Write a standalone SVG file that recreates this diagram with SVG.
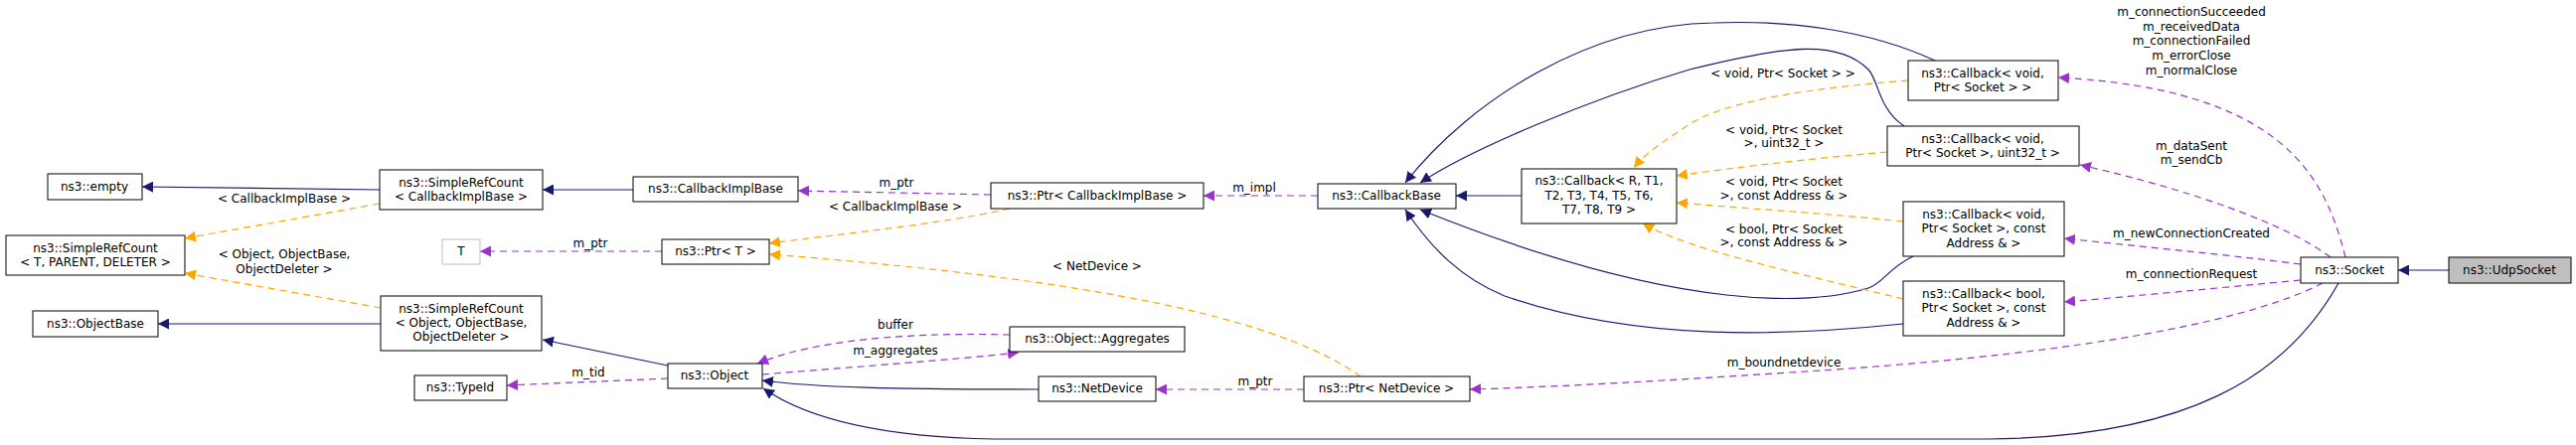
<svg xmlns="http://www.w3.org/2000/svg" width="2592" height="448" viewBox="0 0 2592 448">
<style>
text{font-family:"DejaVu Sans","Liberation Sans",sans-serif;font-size:12px;fill:#000;text-anchor:middle;dominant-baseline:central}
.n rect{fill:#fff;stroke:#000;stroke-width:1}
.inh{fill:none;stroke:#191970;stroke-width:1.2}
.tpl{fill:none;stroke:#ffa500;stroke-width:1.2;stroke-dasharray:7,5}
.use{fill:none;stroke:#9a32cd;stroke-width:1.2;stroke-dasharray:7,5}
</style>
<defs>
<marker id="aN" viewBox="0 0 10 10" refX="10" refY="5" markerWidth="11" markerHeight="11" markerUnits="userSpaceOnUse" orient="auto"><path d="M0,0L10,5L0,10z" fill="#191970"/></marker>
<marker id="aO" viewBox="0 0 10 10" refX="10" refY="5" markerWidth="11" markerHeight="11" markerUnits="userSpaceOnUse" orient="auto"><path d="M0,0L10,5L0,10z" fill="#ffa500"/></marker>
<marker id="aP" viewBox="0 0 10 10" refX="10" refY="5" markerWidth="11" markerHeight="11" markerUnits="userSpaceOnUse" orient="auto"><path d="M0,0L10,5L0,10z" fill="#9a32cd"/></marker>
</defs>
<rect width="2592" height="448" fill="#fff"/>
<g id="edges">
<path class="inh" marker-end="url(#aN)" d="M382,191L143,188"/>
<path class="tpl" marker-end="url(#aO)" d="M382,205L186,240"/>
<path class="inh" marker-end="url(#aN)" d="M637,191L546,191"/>
<path class="use" marker-end="url(#aP)" d="M997,196L803,192"/>
<path class="tpl" marker-end="url(#aO)" d="M1016,210C950,225 850,235 774,245"/>
<path class="use" marker-end="url(#aP)" d="M1326,197L1211,197"/>
<path class="use" marker-end="url(#aP)" d="M666,253L483,253"/>
<path class="tpl" marker-end="url(#aO)" d="M383,310L186,275"/>
<path class="inh" marker-end="url(#aN)" d="M383,326L159,326"/>
<path class="inh" marker-end="url(#aN)" d="M672,368L546,342"/>
<path class="use" marker-end="url(#aP)" d="M672,381L510,388"/>
<path class="use" marker-end="url(#aP)" d="M1016,337C940,335 830,338 762,366"/>
<path class="use" marker-end="url(#aP)" d="M767,377C850,370 950,363 1025,355"/>
<path class="inh" marker-end="url(#aN)" d="M1045,392C900,392 820,390 767,383"/>
<path class="use" marker-end="url(#aP)" d="M1312,392L1163,392"/>
<path class="tpl" marker-end="url(#aO)" d="M1369,379C1300,330 1150,285 774,256"/>
<path class="inh" marker-end="url(#aN)" d="M1531,197L1465,197"/>
<path class="inh" marker-end="url(#aN)" d="M1947,61C1880,30 1800,20 1724,23C1600,25 1480,100 1414,184"/>
<path class="inh" marker-end="url(#aN)" d="M1916,127C1890,110 1890,80 1880,70C1850,40 1800,45 1700,70C1600,100 1480,150 1429,184"/>
<path class="inh" marker-end="url(#aN)" d="M1925,258C1900,270 1895,285 1880,290C1830,305 1700,320 1429,211"/>
<path class="inh" marker-end="url(#aN)" d="M1915,326C1800,338 1650,345 1514,298C1470,280 1440,250 1414,211"/>
<path class="tpl" marker-end="url(#aO)" d="M1920,81C1830,88 1740,100 1700,125C1670,145 1655,155 1644,169"/>
<path class="tpl" marker-end="url(#aO)" d="M1899,153C1820,160 1750,168 1687,177"/>
<path class="tpl" marker-end="url(#aO)" d="M1915,223C1840,215 1760,210 1687,204"/>
<path class="tpl" marker-end="url(#aO)" d="M1915,301C1850,285 1760,265 1700,245C1680,238 1665,232 1653,225"/>
<path class="inh" marker-end="url(#aN)" d="M2464,272L2413,272"/>
<path class="use" marker-end="url(#aP)" d="M2360,259C2340,180 2300,90 2071,78"/>
<path class="use" marker-end="url(#aP)" d="M2345,259C2300,225 2200,190 2093,166"/>
<path class="use" marker-end="url(#aP)" d="M2315,266C2230,255 2150,248 2077,240"/>
<path class="use" marker-end="url(#aP)" d="M2315,282C2230,290 2150,298 2077,304"/>
<path class="use" marker-end="url(#aP)" d="M2337,285C2250,330 2050,360 1800,375C1650,385 1550,390 1479,392"/>
<path class="inh" marker-end="url(#aN)" d="M2353,285C2300,380 2200,440 2000,442L1000,442C880,440 810,420 768,391"/>
</g>
<g id="labels">
<text x="286" y="200">&lt; CallbackImplBase &gt;</text>
<text x="286" y="256">&lt; Object, ObjectBase,</text>
<text x="286" y="271">ObjectDeleter &gt;</text>
<text x="594" y="245">m_ptr</text>
<text x="592" y="375">m_tid</text>
<text x="902" y="184">m_ptr</text>
<text x="901" y="208">&lt; CallbackImplBase &gt;</text>
<text x="1262" y="189">m_impl</text>
<text x="1104" y="268">&lt; NetDevice &gt;</text>
<text x="901" y="327">buffer</text>
<text x="901" y="353">m_aggregates</text>
<text x="1263" y="384">m_ptr</text>
<text x="1794" y="74">&lt; void, Ptr&lt; Socket &gt; &gt;</text>
<text x="1795" y="131">&lt; void, Ptr&lt; Socket</text>
<text x="1795" y="144">&gt;, uint32_t &gt;</text>
<text x="1795" y="183">&lt; void, Ptr&lt; Socket</text>
<text x="1795" y="197">&gt;, const Address &amp; &gt;</text>
<text x="1795" y="231">&lt; bool, Ptr&lt; Socket</text>
<text x="1795" y="244">&gt;, const Address &amp; &gt;</text>
<text x="1795" y="365">m_boundnetdevice</text>
<text x="2205" y="12">m_connectionSucceeded</text>
<text x="2205" y="27">m_receivedData</text>
<text x="2205" y="41">m_connectionFailed</text>
<text x="2205" y="56">m_errorClose</text>
<text x="2205" y="71">m_normalClose</text>
<text x="2205" y="147">m_dataSent</text>
<text x="2205" y="161">m_sendCb</text>
<text x="2205" y="235">m_newConnectionCreated</text>
<text x="2205" y="276">m_connectionRequest</text>
</g>
<g id="UdpSocket" class="n"><rect x="2464" y="259" width="123" height="26" style="fill:#bfbfbf"/><text x="2525" y="272">ns3::UdpSocket</text></g>
<g id="Socket" class="n"><rect x="2315" y="259" width="98" height="26"/><text x="2364" y="272">ns3::Socket</text></g>
<g id="CbVoid" class="n"><rect x="1920" y="61" width="151" height="40"/><text x="1995" y="74">ns3::Callback&lt; void,</text><text x="1995" y="88">Ptr&lt; Socket &gt; &gt;</text></g>
<g id="CbU32" class="n"><rect x="1899" y="127" width="193" height="40"/><text x="1995" y="140">ns3::Callback&lt; void,</text><text x="1995" y="154">Ptr&lt; Socket &gt;, uint32_t &gt;</text></g>
<g id="CbAddr" class="n"><rect x="1915" y="203" width="162" height="55"/><text x="1996" y="216">ns3::Callback&lt; void,</text><text x="1996" y="230">Ptr&lt; Socket &gt;, const</text><text x="1996" y="245">Address &amp; &gt;</text></g>
<g id="CbBool" class="n"><rect x="1915" y="283" width="162" height="55"/><text x="1996" y="296">ns3::Callback&lt; bool,</text><text x="1996" y="310">Ptr&lt; Socket &gt;, const</text><text x="1996" y="325">Address &amp; &gt;</text></g>
<g id="CallbackR" class="n"><rect x="1531" y="170" width="156" height="55"/><text x="1609" y="182">ns3::Callback&lt; R, T1,</text><text x="1609" y="197">T2, T3, T4, T5, T6,</text><text x="1609" y="211">T7, T8, T9 &gt;</text></g>
<g id="CallbackBase" class="n"><rect x="1326" y="185" width="139" height="25"/><text x="1395" y="197">ns3::CallbackBase</text></g>
<g id="PtrCIB" class="n"><rect x="997" y="184" width="214" height="26"/><text x="1104" y="197">ns3::Ptr&lt; CallbackImplBase &gt;</text></g>
<g id="CIB" class="n"><rect x="637" y="178" width="166" height="25"/><text x="720" y="190">ns3::CallbackImplBase</text></g>
<g id="SrcCIB" class="n"><rect x="382" y="171" width="164" height="40"/><text x="464" y="184">ns3::SimpleRefCount</text><text x="464" y="198">&lt; CallbackImplBase &gt;</text></g>
<g id="empty" class="n"><rect x="48" y="175" width="95" height="26"/><text x="95" y="188">ns3::empty</text></g>
<g id="SrcT" class="n"><rect x="6" y="237" width="180" height="40"/><text x="96" y="250">ns3::SimpleRefCount</text><text x="96" y="264">&lt; T, PARENT, DELETER &gt;</text></g>
<g id="T" class="n"><rect x="445" y="241" width="38" height="25" style="stroke:#bfbfbf"/><text x="464" y="253">T</text></g>
<g id="PtrT" class="n"><rect x="666" y="241" width="108" height="25"/><text x="720" y="253">ns3::Ptr&lt; T &gt;</text></g>
<g id="SrcObj" class="n"><rect x="383" y="298" width="162" height="55"/><text x="464" y="311">ns3::SimpleRefCount</text><text x="464" y="325">&lt; Object, ObjectBase,</text><text x="464" y="339">ObjectDeleter &gt;</text></g>
<g id="ObjectBase" class="n"><rect x="33" y="313" width="126" height="26"/><text x="96" y="326">ns3::ObjectBase</text></g>
<g id="TypeId" class="n"><rect x="417" y="378" width="93" height="25"/><text x="463" y="390">ns3::TypeId</text></g>
<g id="Object" class="n"><rect x="672" y="366" width="95" height="25"/><text x="719" y="378">ns3::Object</text></g>
<g id="Aggregates" class="n"><rect x="1016" y="329" width="176" height="25"/><text x="1104" y="341">ns3::Object::Aggregates</text></g>
<g id="NetDevice" class="n"><rect x="1045" y="379" width="118" height="25"/><text x="1104" y="391">ns3::NetDevice</text></g>
<g id="PtrND" class="n"><rect x="1312" y="379" width="167" height="25"/><text x="1395" y="391">ns3::Ptr&lt; NetDevice &gt;</text></g>
</svg>
